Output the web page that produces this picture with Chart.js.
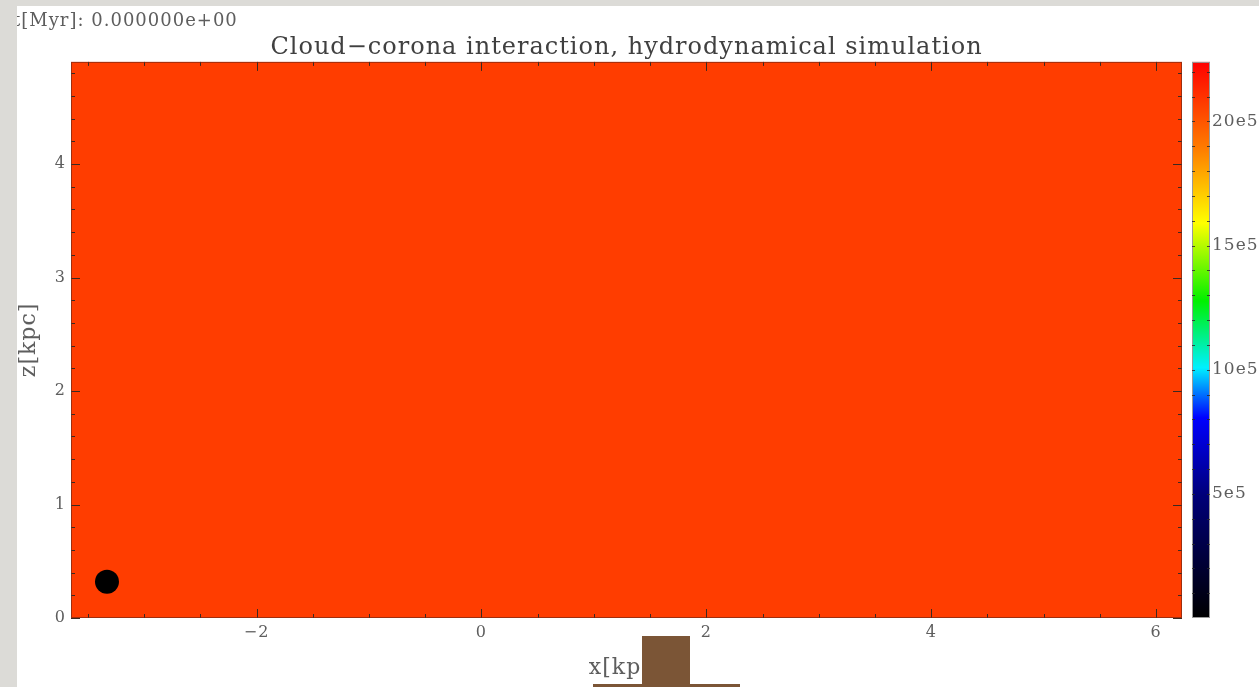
<!DOCTYPE html>
<html>
<head>
<meta charset="utf-8">
<script src="https://cdn.jsdelivr.net/npm/chart.js@4.4.1/dist/chart.umd.min.js"></script>
<style>
  html, body { margin: 0; padding: 0; width: 1259px; height: 687px; overflow: hidden; background: #fff; }
  #wrap { position: relative; width: 1259px; height: 687px; }
  #c { position: absolute; left: 0; top: 0; }
  .strip { position: absolute; background: #dcdbd7; }
  .brown { position: absolute; background: #7b5536; }
</style>
</head>
<body>
<div id="wrap">
  <canvas id="c" width="1259" height="687"></canvas>
  <div class="strip" style="left:0;top:0;width:17px;height:687px"></div>
  <div class="strip" style="left:0;top:0;width:1259px;height:6px"></div>
  <div class="brown" style="left:593px;top:684px;width:147px;height:3px"></div>
  <div class="brown" style="left:642px;top:636px;width:48px;height:51px"></div>
</div>
<script>
// simulation snapshot
const timeLabel = 't[Myr]: 0.000000e+00';
const titleText = 'Cloud\u2212corona interaction, hydrodynamical simulation';
const xRange = [-3.65, 6.23];
const zRange = [0, 4.9];
const xTicks = [-2, 0, 2, 4, 6];
const zTicks = [0, 1, 2, 3, 4];

// cold cloud (black blob near the lower left corner)
const cloudX = [-3.33];
const cloudZ = [0.32];

// corona temperature is uniform at t = 0
const fieldValue = 2.07e6;

// colour bar
const cbRange = [0, 2.24e6];
const cbTicks = [5e5, 10e5, 15e5, 20e5];
const cbTickLabels = ['5e5', '10e5', '15e5', '20e5'];
const cmapPos = [0, 0.22, 0.36, 0.45, 0.57, 0.71, 0.84, 1];
const cmapCol = [
  [0, 0, 0], [0, 0, 120], [0, 0, 255], [0, 240, 255],
  [0, 240, 0], [255, 255, 0], [255, 128, 0], [255, 0, 0]
];

const serif = '"DejaVu Serif", "Liberation Serif", serif';
const textGray = '#5e5e5e';

function cmap(t) {
  t = Math.max(0, Math.min(1, t));
  for (let i = 1; i < cmapPos.length; i++) {
    if (t <= cmapPos[i]) {
      const f = (t - cmapPos[i - 1]) / (cmapPos[i] - cmapPos[i - 1]);
      const a = cmapCol[i - 1], b = cmapCol[i];
      const c = a.map((v, k) => Math.round(v + (b[k] - v) * f));
      return `rgb(${c[0]},${c[1]},${c[2]})`;
    }
  }
  return 'rgb(255,0,0)';
}

// IDL fonts are drawn with wide spacing
const spacingPlugin = {
  id: 'spacing',
  beforeLayout(chart) { chart.ctx.letterSpacing = '1px'; },
  beforeDraw(chart) { chart.ctx.letterSpacing = '1px'; }
};

// fills the simulation domain with the field colour
const fieldPlugin = {
  id: 'field',
  beforeDatasetsDraw(chart) {
    const { ctx, scales: { x, y } } = chart;
    const x0 = x.getPixelForValue(xRange[0]), x1 = x.getPixelForValue(xRange[1]);
    const y0 = y.getPixelForValue(zRange[1]), y1 = y.getPixelForValue(zRange[0]);
    ctx.save();
    ctx.fillStyle = cmap(fieldValue / cbRange[1]);
    ctx.fillRect(x0, y0, x1 - x0, y1 - y0);
    ctx.restore();
  }
};

// inward ticks on all four sides, plus the colour bar
const framePlugin = {
  id: 'frame',
  afterDatasetsDraw(chart) {
    const { ctx, chartArea: a, scales: { x, y, cb } } = chart;
    ctx.save();
    ctx.strokeStyle = '#3b2a22';
    ctx.lineWidth = 1;
    ctx.beginPath();
    for (let v = -3.5; v <= xRange[1]; v += 0.5) {
      const px = Math.round(x.getPixelForValue(v)) + 0.5;
      const len = xTicks.includes(v) ? 9 : 4;
      ctx.moveTo(px, a.bottom); ctx.lineTo(px, a.bottom - len);
      ctx.moveTo(px, a.top); ctx.lineTo(px, a.top + len);
    }
    for (let i = 0; i * 0.2 <= zRange[1]; i++) {
      const py = Math.round(y.getPixelForValue(i * 0.2)) + 0.5;
      const len = i % 5 === 0 ? 9 : 4;
      ctx.moveTo(a.left, py); ctx.lineTo(a.left + len, py);
      ctx.moveTo(a.right, py); ctx.lineTo(a.right - len, py);
    }
    ctx.stroke();
    ctx.strokeStyle = 'rgba(120,40,20,0.7)';
    ctx.strokeRect(a.left + 0.5, a.top + 0.5, a.width - 1, a.height - 1);

    // colour bar
    const bx = cb.left + 10, bw = 18;
    const top = cb.getPixelForValue(cbRange[1]), bot = cb.getPixelForValue(cbRange[0]);
    const g = ctx.createLinearGradient(0, bot, 0, top);
    cmapPos.forEach(p => g.addColorStop(p, cmap(p)));
    ctx.fillStyle = g;
    ctx.fillRect(bx, top, bw, bot - top);
    ctx.strokeStyle = '#9a9a9a';
    ctx.strokeRect(bx + 0.5, top + 0.5, bw - 1, bot - top - 1);
    ctx.strokeStyle = 'rgba(40,40,40,0.8)';
    ctx.beginPath();
    for (let v = 1e5; v < cbRange[1]; v += 1e5) {
      const py = Math.round(cb.getPixelForValue(v)) + 0.5;
      ctx.moveTo(bx, py); ctx.lineTo(bx + 3, py);
      ctx.moveTo(bx + bw, py); ctx.lineTo(bx + bw - 3, py);
    }
    ctx.stroke();
    ctx.restore();
  }
};

const tickFont = { family: serif, size: 16, lineHeight: 1.2 };
const labelFont = { family: serif, size: 22, lineHeight: 1.2 };
const minus = v => String(v).replace('-', '\u2212');

new Chart(document.getElementById('c'), {
  type: 'scatter',
  data: {
    datasets: [{
      label: 'cloud',
      data: cloudX.map((v, i) => ({ x: v, y: cloudZ[i] })),
      backgroundColor: '#000',
      borderWidth: 0,
      pointRadius: 12,
      pointHoverRadius: 12
    }]
  },
  options: {
    responsive: false,
    animation: false,
    layout: { padding: { left: 13, right: 0, top: 0, bottom: 0 } },
    plugins: {
      legend: { display: false },
      tooltip: { enabled: false },
      title: {
        display: true,
        text: timeLabel,
        align: 'start',
        color: textGray,
        font: { family: serif, size: 18, weight: 'normal', lineHeight: 1.2 },
        padding: { top: 11, bottom: 0 }
      },
      subtitle: {
        display: true,
        fullSize: false,
        text: titleText,
        color: '#404040',
        font: { family: serif, size: 24, weight: 'normal', lineHeight: 1.2 },
        padding: { top: 0.5, bottom: 0 }
      }
    },
    scales: {
      x: {
        type: 'linear',
        position: 'bottom',
        min: xRange[0],
        max: xRange[1],
        afterBuildTicks: s => { s.ticks = xTicks.map(v => ({ value: v })); },
        afterFit: s => { s.height = 69; },
        grid: { display: false, drawTicks: false },
        border: { display: false },
        ticks: { font: tickFont, color: textGray, padding: 5, maxRotation: 0, autoSkip: false, callback: minus },
        title: { display: true, text: 'x[kpc]', font: labelFont, color: textGray, padding: { top: 0, bottom: 6 } }
      },
      y: {
        type: 'linear',
        position: 'left',
        min: zRange[0],
        max: zRange[1],
        afterBuildTicks: s => { s.ticks = zTicks.map(v => ({ value: v })); },
        afterFit: s => { s.width = 58; },
        grid: { display: false, drawTicks: false },
        border: { display: false },
        ticks: { font: tickFont, color: textGray, padding: 5, autoSkip: false, callback: minus },
        title: { display: true, text: 'z[kpc]', font: labelFont, color: textGray, padding: { top: 3, bottom: 0 } }
      },
      cb: {
        type: 'linear',
        position: 'right',
        min: cbRange[0],
        max: cbRange[1],
        afterBuildTicks: s => { s.ticks = cbTicks.map(v => ({ value: v })); },
        afterFit: s => { s.width = 77; },
        grid: { display: false, drawTicks: false },
        border: { display: false },
        ticks: { font: { family: serif, size: 17, lineHeight: 1.2 }, color: textGray, padding: 30, autoSkip: false, callback: (v, i) => cbTickLabels[i] }
      }
    }
  },
  plugins: [spacingPlugin, fieldPlugin, framePlugin]
});
</script>
</body>
</html>
